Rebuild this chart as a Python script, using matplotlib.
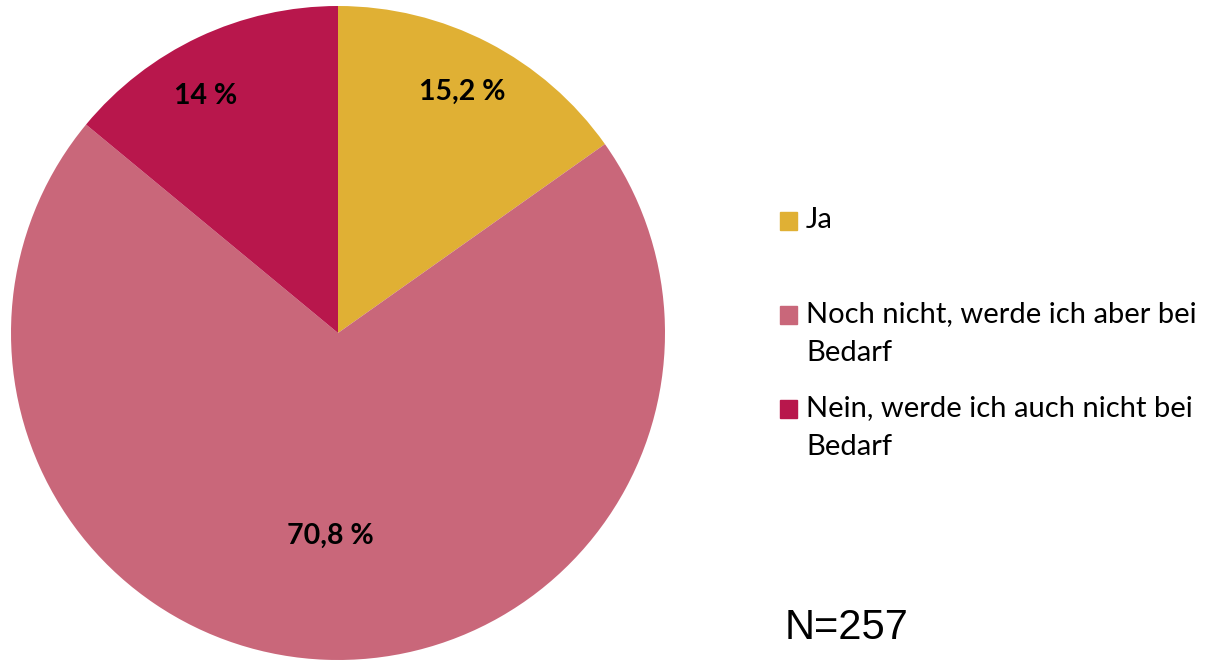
import numpy as np
import matplotlib.pyplot as plt
from matplotlib.patches import Rectangle

# Data
labels = ['Ja', 'Noch nicht, werde ich aber bei\nBedarf', 'Nein, werde ich auch nicht bei\nBedarf']
values = [15.2, 70.8, 14.0]
value_text = ['15,2 %', '70,8 %', '14 %']
colors = ['#E0B034', '#C9677A', '#B8174C']
n_text = 'N=257'

W, H = 1209, 661
fig = plt.figure(figsize=(W / 100, H / 100), dpi=100)
ax = fig.add_axes([11 / W, 1 / H, 654 / W, 654 / H])

wedges, _ = ax.pie(values, colors=colors, startangle=90, counterclock=False,
                   radius=1, wedgeprops=dict(linewidth=0))
ax.set_xlim(-1, 1)
ax.set_ylim(-1, 1)
ax.set_aspect('equal')

# value labels: (radius, angle shift in degrees) from wedge middle
label_pos = [(0.83, 0), (0.62, 0), (0.83, 4)]
for w, txt, (r, shift) in zip(wedges, value_text, label_pos):
    ang = np.deg2rad((w.theta1 + w.theta2) / 2 + shift)
    ax.text(r * np.cos(ang), r * np.sin(ang), txt, ha='center', va='center',
            fontsize=20.5, fontweight='bold', family='Lato', color='black')

# legend drawn by hand so the square sits at the first text line
leg_y = [221, 315, 409]
line_gap = 39
for lab, c, y in zip(labels, colors, leg_y):
    fig.patches.append(Rectangle((780 / W, 1 - (y + 9) / H), 17 / W, 18 / H,
                                 transform=fig.transFigure, color=c))
    for i, line in enumerate(lab.split('\n')):
        fig.text(806 / W, 1 - (y + 7 + i * line_gap) / H, line, ha='left',
                 va='baseline', fontsize=21, family='Lato')

fig.text(785 / W, 1 - 628 / H, n_text, ha='left', va='center', fontsize=30,
         family='Liberation Sans')

fig.savefig('out.png', dpi=100)
